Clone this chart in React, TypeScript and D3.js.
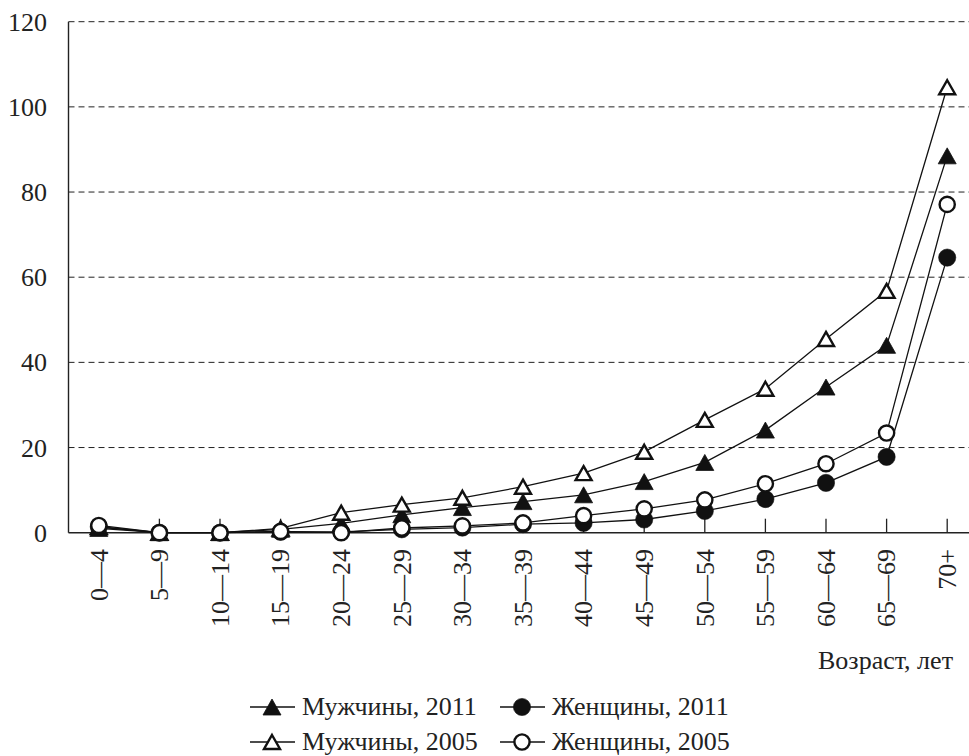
import React from "react";
import * as d3 from "d3";

const categories = ["0—4", "5—9", "10—14", "15—19", "20—24", "25—29", "30—34", "35—39", "40—44", "45—49", "50—54", "55—59", "60—64", "65—69", "70+"];
const men2011 = [1.0, 0, 0, 0.8, 2.2, 4.2, 5.9, 7.3, 8.9, 12.0, 16.5, 24.1, 34.2, 44.0, 88.5];
const men2005 = [1.3, 0, 0, 1.0, 4.7, 6.6, 8.2, 10.8, 14.0, 19.0, 26.5, 33.8, 45.5, 56.8, 104.6];
const women2011 = [1.4, 0, 0, 0.2, 0.2, 0.8, 1.2, 2.0, 2.3, 3.1, 5.1, 7.9, 11.7, 17.8, 64.6];
const women2005 = [1.7, 0, 0, 0.3, 0, 1.1, 1.6, 2.3, 4.0, 5.6, 7.7, 11.5, 16.2, 23.4, 77.1];
const yTicks = [0, 20, 40, 60, 80, 100, 120];
const xTitle = "Возраст, лет";
const legendLabels = ["Мужчины, 2011", "Женщины, 2011", "Мужчины, 2005", "Женщины, 2005"];

const W = 969, H = 756;
const left = 68.5, bottom = 532.7, top = 21.7;
const FONT = "'Liberation Serif', 'Times New Roman', Times, serif";
const FS = 26;
const txt: React.CSSProperties = { fontFamily: FONT, fontSize: FS };

type Kind = "triFilled" | "triOpen" | "circFilled" | "circOpen";

function Marker({ kind, x, y }: { kind: Kind; x: number; y: number }) {
  if (kind === "triFilled" || kind === "triOpen") {
    const filled = kind === "triFilled";
    const w = filled ? 9 : 8, h = filled ? 8 : 7;
    const p = `M${x},${y - h} L${x + w},${y + h} L${x - w},${y + h} Z`;
    return <path d={p} fill={filled ? "#111" : "#fff"} stroke="#111" strokeWidth={filled ? 0.8 : 2.4} strokeLinejoin="miter" />;
  }
  const filled = kind === "circFilled";
  return <circle cx={x} cy={y} r={filled ? 8.6 : 7.6} fill={filled ? "#111" : "#fff"} stroke="#111" strokeWidth={filled ? 0.6 : 2.4} />;
}

export default function App() {
  const x = d3.scaleBand<string>().domain(categories).range([left, left + 15 * 60.6]).paddingInner(0).paddingOuter(0);
  const cx = (c: string) => (x(c) as number) + x.bandwidth() / 2;
  const y = d3.scaleLinear().domain([0, 120]).range([bottom, top]);
  const line = d3.line<number>().x((_, i) => cx(categories[i])).y((d) => y(d));

  const series: { vals: number[]; kind: Kind }[] = [
    { vals: men2011, kind: "triFilled" },
    { vals: men2005, kind: "triOpen" },
    { vals: women2011, kind: "circFilled" },
    { vals: women2005, kind: "circOpen" },
  ];

  const legend: { label: string; kind: Kind; lx: number; ly: number }[] = [
    { label: legendLabels[0], kind: "triFilled", lx: 250, ly: 707 },
    { label: legendLabels[1], kind: "circFilled", lx: 500, ly: 707 },
    { label: legendLabels[2], kind: "triOpen", lx: 250, ly: 742 },
    { label: legendLabels[3], kind: "circOpen", lx: 500, ly: 742 },
  ];

  return (
    <div style={{ position: "fixed", left: 0, top: 0, width: W, height: H, background: "#fff" }}>
      <svg width={W} height={H} style={{ display: "block" }}>
        <rect width={W} height={H} fill="#fff" />
        {yTicks.filter((t) => t > 0).map((t) => (
          <line key={t} x1={left} x2={W} y1={y(t)} y2={y(t)} stroke="#222" strokeWidth={1} strokeDasharray="6,4" />
        ))}
        {yTicks.map((t) => (
          <text key={t} x={47} y={y(t)} dy="0.35em" textAnchor="end" style={txt} fill="#222">{t}</text>
        ))}
        <line x1={left} x2={left} y1={top} y2={bottom} stroke="#222" strokeWidth={1.4} />
        <line x1={left} x2={W} y1={bottom} y2={bottom} stroke="#222" strokeWidth={1.4} />
        {categories.map((c) => (
          <line key={c} x1={cx(c)} x2={cx(c)} y1={bottom} y2={bottom - 14} stroke="#222" strokeWidth={1.3} />
        ))}
        {categories.map((c) => (
          <text key={c} transform={`translate(${cx(c)},549) rotate(-90)`} dy="0.34em" textAnchor="end" style={txt} fill="#222">{c}</text>
        ))}
        <text x={953} y={669} textAnchor="end" style={txt} fill="#222">{xTitle}</text>
        {series.map((s, i) => (
          <path key={i} d={line(s.vals) || ""} fill="none" stroke="#111" strokeWidth={1.3} />
        ))}
        {series.map((s, i) => (
          <g key={i}>
            {s.vals.map((v, j) => (
              <Marker key={j} kind={s.kind} x={cx(categories[j])} y={y(v)} />
            ))}
          </g>
        ))}
        {legend.map((l, i) => (
          <g key={i}>
            <line x1={l.lx} x2={l.lx + 45} y1={l.ly} y2={l.ly} stroke="#111" strokeWidth={1.3} />
            <Marker kind={l.kind} x={l.lx + 22} y={l.ly} />
            <text x={l.lx + 52} y={l.ly + 8} style={txt} fill="#222">{l.label}</text>
          </g>
        ))}
      </svg>
    </div>
  );
}
